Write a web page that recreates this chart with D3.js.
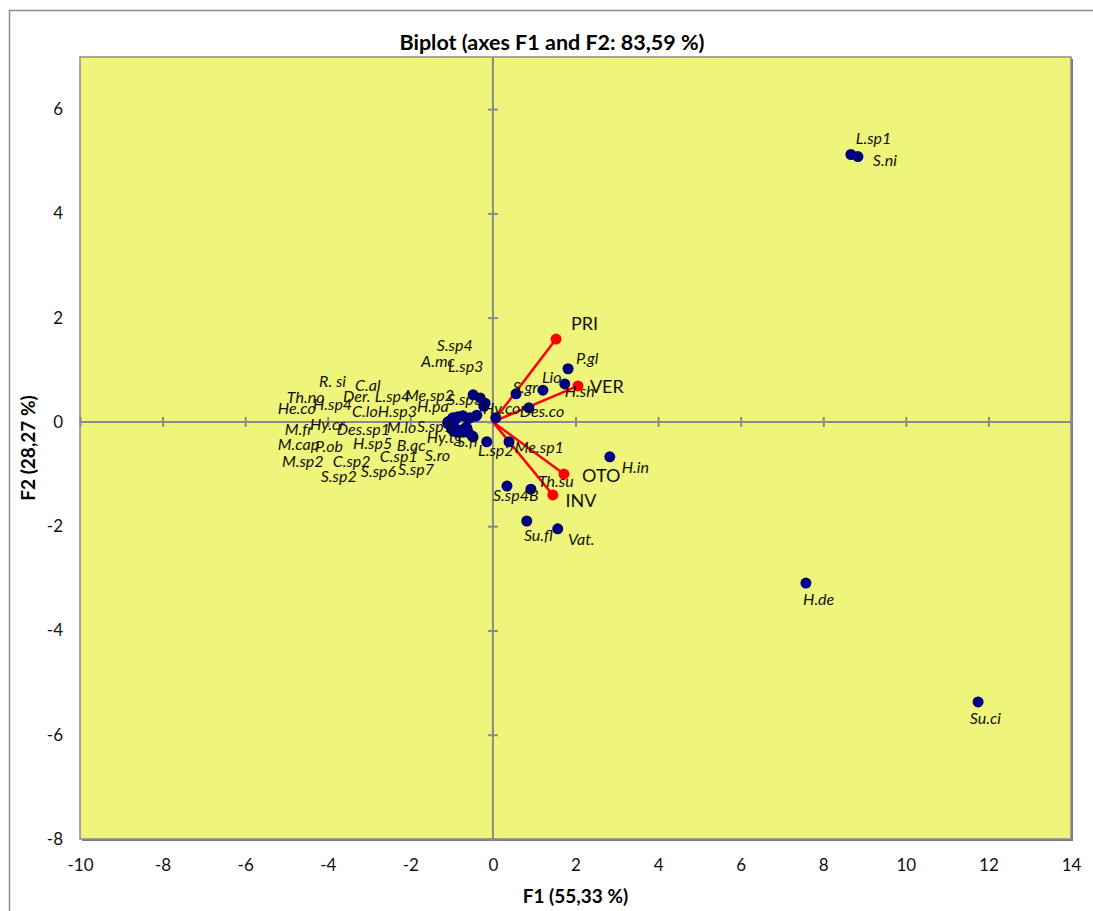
<!DOCTYPE html>
<html>
<head>
<meta charset="utf-8">
<script src="https://cdn.jsdelivr.net/npm/d3@7"></script>
<style>
  body { margin: 0; background: #fff; }
  text { font-family: Lato, "Open Sans", sans-serif; }
</style>
</head>
<body>
<svg id="chart" width="1093" height="911"></svg>
<script>
// Observations (species) projected on F1 / F2
const species = [
  "L.sp1", "S.ni", "H.de", "Su.ci", "H.in", "Vat.", "Su.fl", "S.sp4B", "Th.su",
  "P.gl", "H.sh", "Lio", "S.gr", "Des.co", "Hy.co", "Me.sp1", "L.sp2",
  "S.sp4", "A.mc", "L.sp3", "Me.sp2", "S.sp3", "H.pa",
  "R. si", "C.al", "Th.no", "H.sp4", "Der.", "L.sp4", "He.co", "C.lo", "H.sp3",
  "Hy.cr", "M.fr", "Des.sp1", "M.lo", "S.sp1", "M.cap", "P.ob", "H.sp5", "B.qc",
  "M.sp2", "C.sp2", "C.sp1", "S.sp2", "S.sp6", "S.sp7", "Hy.tg", "S.fl", "S.ro"
];
const f1 = [
  8.67, 8.84, 7.58, 11.75, 2.83, 1.57, 0.82, 0.34, 0.92,
  1.82, 1.74, 1.21, 0.56, 0.87, 0.07, 0.39, -0.15,
  -0.48, -0.31, -0.19, -0.22, -0.39, -0.41,
  -0.97, -0.85, -1.09, -1.05, -0.73, -0.56, -1.09, -0.92, -0.60,
  -1.00, -0.97, -0.85, -0.63, -0.66, -0.97, -0.88, -0.85, -0.70,
  -1.00, -0.90, -0.80, -0.95, -0.86, -0.75, -0.50, -0.48, -0.60
];
const f2 = [
  5.13, 5.09, -3.09, -5.37, -0.67, -2.05, -1.90, -1.23, -1.29,
  1.02, 0.73, 0.61, 0.54, 0.27, 0.08, -0.38, -0.38,
  0.52, 0.46, 0.36, 0.30, 0.13, 0.11,
  0.08, 0.10, 0.00, 0.02, 0.12, 0.08, -0.03, 0.04, 0.06,
  -0.07, -0.10, -0.15, -0.12, -0.11, -0.12, -0.16, -0.18, -0.14,
  -0.14, -0.19, -0.17, -0.17, -0.20, -0.19, -0.27, -0.29, -0.20
];
// Hand-placed label anchors (chart units): left edge / vertical middle of each name
const labelX = [
  8.79, 9.20, 7.51, 11.55, 3.12, 1.82, 0.75, 0.00, 1.09,
  2.01, 1.74, 1.19, 0.48, 0.65, -0.24, 0.53, -0.36,
  -1.36, -1.74, -1.09, -2.13, -1.11, -1.84,
  -4.21, -3.34, -4.99, -4.36, -3.63, -2.86, -5.21, -3.41, -2.79,
  -4.43, -5.04, -3.78, -2.57, -1.84, -5.21, -4.31, -3.39, -2.33,
  -5.11, -3.88, -2.74, -4.17, -3.20, -2.30, -1.60, -0.87, -1.65
];
const labelY = [
  5.41, 4.99, -3.43, -5.72, -0.90, -2.28, -2.21, -1.44, -1.17,
  1.19, 0.56, 0.82, 0.63, 0.17, 0.23, -0.52, -0.58,
  1.44, 1.13, 1.04, 0.48, 0.40, 0.27,
  0.75, 0.67, 0.44, 0.31, 0.46, 0.46, 0.23, 0.17, 0.17,
  -0.08, -0.17, -0.17, -0.13, -0.12, -0.46, -0.50, -0.44, -0.48,
  -0.79, -0.79, -0.69, -1.07, -0.98, -0.94, -0.33, -0.40, -0.67
];

// Active variables (loading vectors)
const variables = ["PRI", "VER", "OTO", "INV"];
const varF1 = [1.53, 2.06, 1.72, 1.45];
const varF2 = [1.59, 0.69, -1.00, -1.40];
const varLabelX = [1.89, 2.35, 2.16, 1.76];
const varLabelY = [1.86, 0.65, -1.06, -1.54];

const xTicks = [-10, -8, -6, -4, -2, 0, 2, 4, 6, 8, 10, 12, 14];
const yTicks = [-8, -6, -4, -2, 0, 2, 4, 6];

const svg = d3.select("#chart");
const plot = { left: 80, top: 57, right: 1071, bottom: 839 };

const x = d3.scaleLinear().domain([-10, 14]).range([plot.left, plot.right]);
const y = d3.scaleLinear().domain([-8, 7]).range([plot.bottom, plot.top]);

// Outer chart frame
svg.append("rect")
  .attr("x", 9.5).attr("y", 10.5)
  .attr("width", 1110).attr("height", 930)
  .attr("fill", "#fff").attr("stroke", "#8c8c8c").attr("stroke-width", 1.5);

// Plot area with a slight drop shadow
svg.append("rect")
  .attr("x", plot.left + 2).attr("y", plot.top + 2)
  .attr("width", plot.right - plot.left).attr("height", plot.bottom - plot.top)
  .attr("fill", "#7a7a7a");
svg.append("rect")
  .attr("x", plot.left).attr("y", plot.top)
  .attr("width", plot.right - plot.left).attr("height", plot.bottom - plot.top)
  .attr("fill", "#eef57a").attr("stroke", "#8c8c8c").attr("stroke-width", 1.5);

// Zero lines through the origin
const axisColor = "#8a8a8a";
svg.append("line")
  .attr("x1", plot.left).attr("x2", plot.right)
  .attr("y1", y(0)).attr("y2", y(0))
  .attr("stroke", axisColor).attr("stroke-width", 2);
svg.append("line")
  .attr("x1", x(0)).attr("x2", x(0))
  .attr("y1", plot.top).attr("y2", plot.bottom)
  .attr("stroke", axisColor).attr("stroke-width", 2);

// Cross ticks on the zero lines
const xCross = svg.append("g")
  .attr("transform", `translate(0,${y(0) - 5})`)
  .call(d3.axisBottom(x).tickValues(xTicks).tickSize(10).tickFormat(""));
const yCross = svg.append("g")
  .attr("transform", `translate(${x(0) + 5},0)`)
  .call(d3.axisLeft(y).tickValues(yTicks).tickSize(10).tickFormat(""));
[xCross, yCross].forEach(g => {
  g.select(".domain").remove();
  g.selectAll(".tick line").attr("stroke", axisColor).attr("stroke-width", 2);
});

// Tick labels along the plot edges
const xLab = svg.append("g")
  .attr("transform", "translate(0,859)")
  .call(d3.axisBottom(x).tickValues(xTicks).tickSize(0).tickPadding(0).tickFormat(d3.format("d")));
const yLab = svg.append("g")
  .attr("transform", "translate(63,0)")
  .call(d3.axisLeft(y).tickValues(yTicks).tickSize(0).tickPadding(0).tickFormat(d3.format("d")));
[xLab, yLab].forEach(g => {
  g.select(".domain").remove();
  g.selectAll(".tick text")
    .attr("font-family", "Lato, sans-serif")
    .attr("font-size", 17)
    .attr("fill", "#111")
    .text(d => d < 0 ? "-" + Math.abs(d) : String(d));
});

// Titles
svg.append("text")
  .attr("x", 552).attr("y", 50)
  .attr("text-anchor", "middle")
  .attr("font-size", 21.5).attr("font-weight", "bold")
  .text("Biplot (axes F1 and F2: 83,59 %)");
svg.append("text")
  .attr("x", (plot.left + plot.right) / 2).attr("y", 903)
  .attr("text-anchor", "middle")
  .attr("font-size", 19).attr("font-weight", "bold")
  .text("F1 (55,33 %)");
svg.append("text")
  .attr("transform", `translate(35,${(plot.top + plot.bottom) / 2}) rotate(-90)`)
  .attr("text-anchor", "middle")
  .attr("font-size", 19).attr("font-weight", "bold")
  .text("F2 (28,27 %)");

// Variable vectors
const vars = variables.map((name, i) => ({ name, f1: varF1[i], f2: varF2[i], lx: varLabelX[i], ly: varLabelY[i] }));
svg.append("g").selectAll("line").data(vars).join("line")
  .attr("x1", x(0)).attr("y1", y(0))
  .attr("x2", d => x(d.f1)).attr("y2", d => y(d.f2))
  .attr("stroke", "#ff0000").attr("stroke-width", 2.5);
svg.append("g").selectAll("circle").data(vars).join("circle")
  .attr("cx", d => x(d.f1)).attr("cy", d => y(d.f2)).attr("r", 5.5)
  .attr("fill", "#ff0000");

// Observation points
const obs = species.map((name, i) => ({ name, f1: f1[i], f2: f2[i], lx: labelX[i], ly: labelY[i] }));
svg.append("g").selectAll("circle").data(obs).join("circle")
  .attr("cx", d => x(d.f1)).attr("cy", d => y(d.f2)).attr("r", 5.5)
  .attr("fill", "#000080");

// Observation names
svg.append("g").selectAll("text").data(obs).join("text")
  .attr("x", d => x(d.lx)).attr("y", d => y(d.ly))
  .attr("dominant-baseline", "middle")
  .attr("font-size", 16).attr("font-style", "italic")
  .attr("fill", "#111")
  .text(d => d.name);

// Variable names
svg.append("g").selectAll("text").data(vars).join("text")
  .attr("x", d => x(d.lx)).attr("y", d => y(d.ly))
  .attr("dominant-baseline", "middle")
  .attr("font-size", 18)
  .attr("fill", "#111")
  .text(d => d.name);
</script>
</body>
</html>
